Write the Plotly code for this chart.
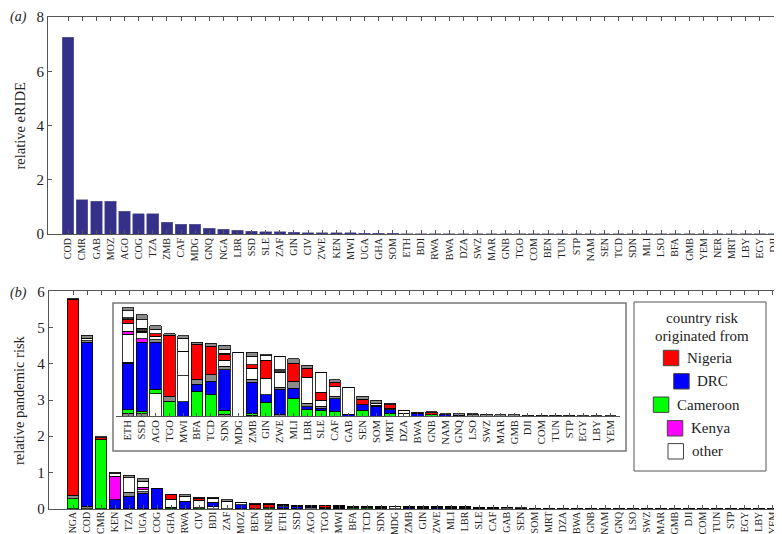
import plotly.graph_objects as go

FONT = "Liberation Serif, Times New Roman, serif"
W, H = 782, 534

# ---------------- panel (a) data ----------------
eride_countries = ["COD", "CMR", "GAB", "MOZ", "AGO", "COG", "TZA", "ZMB", "CAF", "MDG", "GNQ", "NGA", "LBR",
                   "SSD", "SLE", "ZAF", "GIN", "CIV", "ZWE", "KEN", "MWI", "UGA", "GHA", "SOM", "ETH", "BDI",
                   "RWA", "BWA", "DZA", "SWZ", "MAR", "GNB", "TGO", "COM", "BEN", "TUN", "STP", "NAM", "SEN",
                   "TCD", "SDN", "MLI", "LSO", "BFA", "GMB", "YEM", "NER", "MRT", "LBY", "EGY", "DJI"]
eride_values = [7.25, 1.26, 1.21, 1.21, 0.84, 0.75, 0.74, 0.43, 0.36, 0.36, 0.21, 0.17, 0.14,
                0.11, 0.08, 0.08, 0.06, 0.05, 0.05, 0.04, 0.04, 0.03, 0.025, 0.02, 0.015, 0.012,
                0.01, 0.009, 0.008, 0.007, 0.006, 0.006, 0.005, 0.005, 0.004, 0.004, 0.003, 0.003, 0.003,
                0.002, 0.002, 0.002, 0.002, 0.001, 0.001, 0.001, 0.001, 0.001, 0.0005, 0.0005, 0.0003]

# ---------------- panel (b) data ----------------
risk_countries = ["NGA", "COD", "CMR", "KEN", "TZA", "UGA", "COG", "GHA", "RWA", "CIV", "BDI", "ZAF", "MOZ",
                  "BEN", "NER", "ETH", "SSD", "AGO", "TGO", "MWI", "BFA", "TCD", "SDN", "MDG", "ZMB", "GIN",
                  "ZWE", "MLI", "LBR", "SLE", "CAF", "GAB", "SEN", "SOM", "MRT", "DZA", "BWA", "GNB", "NAM",
                  "GNQ", "LSO", "SWZ", "MAR", "GMB", "DJI", "COM", "TUN", "STP", "EGY", "LBY", "YEM"]
inset_start = 15  # inset shows ETH ... YEM

# stacked contributions, bottom to top (one list per layer)
other_0 = [0, 0, 0, 0, 0, 0, 0, 0, 0, 0, 0.05, 0, 0, 0, 0,
           0, 0, 0.0223, 0, 0, 0, 0, 0, 0, 0, 0, 0,
           0, 0, 0, 0, 0, 0, 0, 0, 0, 0, 0, 0,
           0, 0, 0, 0, 0, 0, 0, 0, 0, 0, 0, 0]
minor_base = [0, 0.07, 0, 0, 0, 0, 0, 0, 0, 0, 0, 0, 0, 0, 0,
              0.003, 0.0023, 0, 0, 0, 0, 0, 0.002, 0, 0.001, 0, 0.0013,
              0, 0, 0, 0, 0, 0, 0, 0, 0, 0, 0, 0,
              0, 0.0012, 0, 0, 0, 0, 0, 0, 0, 0, 0, 0]
cameroon = [0.27, 0, 1.90, 0, 0, 0, 0, 0.04, 0, 0.03, 0, 0, 0, 0, 0.03,
            0.0035, 0.0027, 0.0047, 0.0147, 0, 0.0247, 0.0213, 0.0037, 0, 0.002, 0.0137, 0,
            0.018, 0.0063, 0.0057, 0.005, 0, 0.0057, 0, 0.003, 0, 0, 0.0013, 0,
            0, 0, 0, 0, 0, 0, 0, 0, 0, 0, 0, 0]
drc = [0, 4.52, 0, 0.25, 0.34, 0.43, 0.55, 0, 0.19, 0, 0.13, 0, 0.11, 0, 0,
       0.0465, 0.069, 0.0467, 0, 0.0143, 0.007, 0.0134, 0.0406, 0, 0.031, 0.0076, 0.0257,
       0.0097, 0.003, 0.002, 0.0123, 0.002, 0.0056, 0.0097, 0.0033, 0, 0.003, 0, 0.0015,
       0.001, 0, 0, 0, 0, 0, 0, 0, 0, 0, 0, 0]
minor_mid = [0.10, 0.04, 0, 0, 0.12, 0.04, 0, 0, 0.02, 0, 0, 0, 0, 0, 0,
             0.001, 0, 0.0026, 0.005, 0, 0.005, 0.0066, 0.0034, 0, 0.003, 0, 0.0017,
             0.007, 0.0037, 0.002, 0.0027, 0, 0, 0.001, 0.0014, 0, 0, 0, 0,
             0, 0, 0, 0, 0, 0, 0, 0, 0, 0, 0, 0]
other_a = [0, 0.08, 0, 0, 0.39, 0.05, 0, 0.22, 0.14, 0.20, 0.09, 0.21, 0.05, 0, 0,
           0.028, 0, 0.0034, 0, 0.026, 0, 0, 0.006, 0.064, 0.011, 0.0167, 0.0153,
           0, 0.026, 0.006, 0.0097, 0.0267, 0, 0.0023, 0, 0.003, 0, 0, 0,
           0, 0, 0, 0, 0, 0, 0, 0, 0, 0, 0, 0]
kenya = [0, 0, 0, 0.63, 0, 0.07, 0, 0, 0, 0, 0, 0, 0, 0, 0,
         0.0027, 0.0033, 0, 0, 0, 0, 0, 0, 0, 0, 0, 0,
         0, 0, 0, 0, 0, 0, 0, 0, 0, 0, 0, 0,
         0, 0, 0, 0, 0, 0, 0, 0, 0, 0, 0, 0]
other_b = [0, 0, 0, 0, 0, 0.17, 0, 0, 0, 0, 0, 0, 0, 0, 0,
           0.008, 0.0064, 0, 0, 0.0244, 0, 0, 0, 0, 0, 0, 0,
           0, 0, 0, 0, 0, 0, 0, 0, 0.0027, 0, 0, 0,
           0, 0, 0, 0, 0, 0, 0, 0, 0, 0, 0, 0]
nigeria = [5.41, 0, 0.06, 0, 0, 0, 0, 0.12, 0, 0.06, 0.02, 0, 0, 0.12, 0.09,
           0.0035, 0.001, 0.0026, 0.061, 0, 0.035, 0.0284, 0.0056, 0, 0.0033, 0.0177, 0,
           0.0183, 0.009, 0.008, 0.0043, 0, 0.0057, 0, 0.0036, 0, 0, 0.002, 0,
           0, 0, 0, 0, 0, 0, 0, 0, 0, 0, 0, 0]
minor_top = [0, 0, 0, 0.02, 0, 0, 0, 0, 0, 0, 0, 0, 0, 0, 0,
             0.002, 0.0033, 0, 0, 0, 0, 0, 0.0017, 0, 0, 0, 0.0023,
             0, 0, 0, 0, 0, 0, 0, 0, 0, 0, 0, 0,
             0, 0, 0, 0, 0, 0, 0, 0, 0, 0, 0, 0]
other_c = [0, 0, 0, 0.07, 0, 0, 0, 0, 0, 0, 0, 0, 0, 0, 0,
           0.007, 0.0083, 0.0047, 0, 0.0133, 0, 0, 0.004, 0, 0.0084, 0.0046, 0.0134,
           0, 0, 0.020, 0, 0, 0, 0, 0, 0, 0, 0, 0,
           0, 0, 0, 0, 0, 0, 0, 0, 0, 0, 0, 0]
minor_cap = [0.02, 0.07, 0.02, 0.04, 0.07, 0.07, 0.02, 0.02, 0.03, 0.03, 0.02, 0.03, 0.02, 0.03, 0.03,
             0.0031, 0.005, 0.0033, 0.0016, 0.0023, 0.0023, 0.0033, 0.0037, 0, 0.004, 0.001, 0,
             0.0043, 0.0027, 0, 0.0023, 0, 0.0027, 0.0027, 0.0017, 0, 0.001, 0.001, 0.0008,
             0.0013, 0.0011, 0.0017, 0.0013, 0.0012, 0.001, 0.0009, 0.0007, 0.0006, 0.0005, 0.0004, 0.0003]

legend_labels = ["Nigeria", "DRC", "Cameroon", "Kenya", "other"]
legend_colors = ["#ff0000", "#0000ff", "#00ff00", "#ff00ff", "#ffffff"]

layers = [
    (other_0, "#ffffff"), (minor_base, "#8a8a8a"), (cameroon, "#00ff00"), (drc, "#0000ff"),
    (minor_mid, "#8a8a8a"), (other_a, "#ffffff"), (kenya, "#ff00ff"), (other_b, "#ffffff"),
    (nigeria, "#ff0000"), (minor_top, "#3a3a3a"), (other_c, "#ffffff"), (minor_cap, "#8a8a8a"),
]


def px(x):
    return x / W


def py(y):
    return 1 - y / H


fig = go.Figure()

fig.add_trace(go.Bar(
    x=list(range(len(eride_countries))), y=eride_values, xaxis="x", yaxis="y",
    marker=dict(color="#35308a", line=dict(color="#6a6a9a", width=0.6)),
    width=0.82, showlegend=False, hoverinfo="skip"))

idx = list(range(len(risk_countries)))
idx_inset = list(range(len(risk_countries) - inset_start))
for vals, col in layers:
    fig.add_trace(go.Bar(
        x=idx, y=vals, xaxis="x2", yaxis="y2",
        marker=dict(color=col, line=dict(color="#000000", width=0.8)),
        width=0.84, showlegend=False, hoverinfo="skip"))
    fig.add_trace(go.Bar(
        x=idx_inset, y=vals[inset_start:], xaxis="x3", yaxis="y3",
        marker=dict(color=col, line=dict(color="#000000", width=0.8)),
        width=0.82, showlegend=False, hoverinfo="skip"))

LABEL_FONT = dict(family=FONT, size=10, color="#222222")
axis_common = dict(showline=True, linecolor="#555555", linewidth=1, ticks="inside", ticklen=4,
                   tickcolor="#555555", mirror="ticks", showgrid=False, zeroline=False,
                   automargin=False, tickfont=dict(family=FONT, size=15, color="#222222"))
xcat_common = dict(axis_common, tickangle=-90, tickfont=LABEL_FONT, ticklabelstandoff=-1)

fig.update_layout(
    width=W, height=H, margin=dict(l=0, r=0, t=0, b=0),
    paper_bgcolor="white", plot_bgcolor="white", barmode="stack", showlegend=False,
    font=dict(family=FONT, color="#222222"),
    xaxis=dict(xcat_common, domain=[px(40), px(778)], range=[-1.42, 50.85],
               tickvals=list(range(len(eride_countries))), ticktext=eride_countries, anchor="y"),
    yaxis=dict(axis_common, domain=[py(226), py(9)], range=[0, 8], tickvals=[0, 2, 4, 6, 8], anchor="x"),
    xaxis2=dict(xcat_common, domain=[px(40.7), px(778)], range=[-1.74, 50.93],
                tickvals=idx, ticktext=risk_countries, anchor="y2", ticklabelstandoff=-2),
    yaxis2=dict(axis_common, domain=[py(500.7), py(283.3)], range=[0, 6], tickvals=[0, 1, 2, 3, 4, 5, 6],
                anchor="x2"),
    xaxis3=dict(showline=True, linecolor="#555555", linewidth=1, ticks="inside", ticklen=3,
                tickcolor="#555555", showgrid=False, zeroline=False, automargin=False, tickangle=-90,
                tickfont=dict(family=FONT, size=10.5, color="#222222"), ticklabelstandoff=-1,
                domain=[px(108), px(612)], range=[-0.87, 35.68],
                tickvals=idx_inset, ticktext=risk_countries[inset_start:], anchor="y3"),
    yaxis3=dict(visible=False, domain=[py(408), py(295)], range=[0, 0.113], anchor="x3"),
)

shapes = []
annotations = []
# inset frame
shapes.append(dict(type="rect", xref="paper", yref="paper", x0=px(105), x1=px(618), y0=py(443), y1=py(295),
                   line=dict(color="#777777", width=1.5), fillcolor="rgba(0,0,0,0)"))
# legend box
shapes.append(dict(type="rect", xref="paper", yref="paper", x0=px(626), x1=px(758), y0=py(463), y1=py(294),
                   line=dict(color="#555555", width=1), fillcolor="white"))
annotations.append(dict(text="country risk", x=px(694), y=py(310), xref="paper", yref="paper",
                        showarrow=False, xanchor="center", yanchor="middle",
                        font=dict(family=FONT, size=15, color="#222222")))
annotations.append(dict(text="originated from", x=px(694), y=py(328), xref="paper", yref="paper",
                        showarrow=False, xanchor="center", yanchor="middle",
                        font=dict(family=FONT, size=15, color="#222222")))
sq_left = [655.3, 665.7, 645.3, 659.3, 660.0]
sq_mid = [350.0, 373.3, 396.7, 420.3, 443.3]
for lab, col, xl, ym in zip(legend_labels, legend_colors, sq_left, sq_mid):
    shapes.append(dict(type="rect", xref="paper", yref="paper", x0=px(xl), x1=px(xl + 15.5),
                       y0=py(ym + 7.7), y1=py(ym - 7.7), line=dict(color="#444444", width=1), fillcolor=col))
    annotations.append(dict(text=lab, x=px(xl + 21.5), y=py(ym), xref="paper", yref="paper",
                            showarrow=False, xanchor="left", yanchor="middle",
                            font=dict(family=FONT, size=15, color="#222222")))

# panel labels and y titles
annotations.append(dict(text="<i>(a)</i>", x=0, y=py(9), xref="paper", yref="paper", showarrow=False,
                        xanchor="left", yanchor="middle", font=dict(family=FONT, size=14, color="#222222")))
annotations.append(dict(text="<i>(b)</i>", x=0, y=py(285), xref="paper", yref="paper", showarrow=False,
                        xanchor="left", yanchor="middle", font=dict(family=FONT, size=14, color="#222222")))
annotations.append(dict(text="relative eRIDE", x=px(11), y=py(117.5), xref="paper", yref="paper",
                        showarrow=False, textangle=-90, xanchor="center", yanchor="middle",
                        font=dict(family=FONT, size=14.5, color="#222222")))
annotations.append(dict(text="relative pandemic risk", x=px(11), y=py(392), xref="paper", yref="paper",
                        showarrow=False, textangle=-90, xanchor="center", yanchor="middle",
                        font=dict(family=FONT, size=14.5, color="#222222")))

fig.update_layout(shapes=shapes, annotations=annotations)
fig.write_html("out.html")
